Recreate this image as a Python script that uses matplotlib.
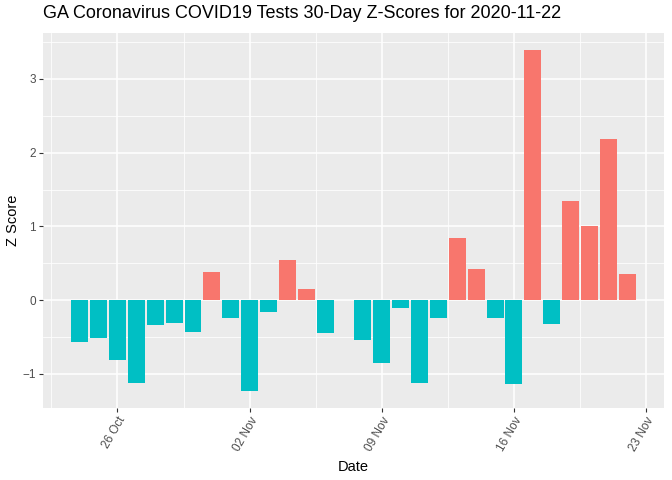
import numpy as np
import pandas as pd
import matplotlib
matplotlib.use("Agg")
import matplotlib.pyplot as plt
import matplotlib.dates as mdates
from matplotlib.ticker import MultipleLocator

plt.rcParams["font.family"] = ["Liberation Sans", "DejaVu Sans"]

# Data (Nov 07 has no value)
dates = [
    "2020-10-24", "2020-10-25", "2020-10-26", "2020-10-27", "2020-10-28",
    "2020-10-29", "2020-10-30", "2020-10-31", "2020-11-01", "2020-11-02",
    "2020-11-03", "2020-11-04", "2020-11-05", "2020-11-06", "2020-11-08",
    "2020-11-09", "2020-11-10", "2020-11-11", "2020-11-12", "2020-11-13",
    "2020-11-14", "2020-11-15", "2020-11-16", "2020-11-17", "2020-11-18",
    "2020-11-19", "2020-11-20", "2020-11-21", "2020-11-22",
]
zscores = [
    -0.57, -0.51, -0.81, -1.12, -0.34,
    -0.31, -0.43, 0.38, -0.24, -1.23,
    -0.16, 0.55, 0.15, -0.45, -0.54,
    -0.85, -0.10, -1.12, -0.24, 0.85,
    0.43, -0.24, -1.14, 3.39, -0.32,
    1.35, 1.00, 2.19, 0.35,
]
x_ticks = ["2020-10-26", "2020-11-02", "2020-11-09", "2020-11-16", "2020-11-23"]

pos_color = "#F8766D"
neg_color = "#00BFC4"

d = mdates.date2num(pd.to_datetime(dates))
z = np.array(zscores)
colors = [pos_color if v > 0 else neg_color for v in z]

fig = plt.figure(figsize=(6.72, 4.8), dpi=100)
ax = fig.add_axes([0.064, 0.15, 0.924, 0.781])

ax.bar(d, z, width=0.9, color=colors, zorder=3)

# ggplot-like expansion
x_lo, x_hi = d.min() - 0.45, d.max() + 0.45
xr = x_hi - x_lo
ax.set_xlim(x_lo - 0.05 * xr, x_hi + 0.05 * xr)
y_lo, y_hi = z.min(), z.max()
yr = y_hi - y_lo
ax.set_ylim(y_lo - 0.05 * yr, y_hi + 0.05 * yr)

ticks = mdates.date2num(pd.to_datetime(x_ticks))
ax.set_xticks(ticks)
ax.set_xticklabels(pd.to_datetime(x_ticks).strftime("%d %b"))
minor_x = np.concatenate([[ticks[0] - 3.5], (ticks[:-1] + ticks[1:]) / 2])
ax.set_xticks(minor_x, minor=True)
ax.yaxis.set_major_locator(MultipleLocator(1))
ax.yaxis.set_minor_locator(MultipleLocator(0.5))

ax.set_facecolor("#EBEBEB")
ax.grid(which="major", color="white", linewidth=1.1, zorder=0)
ax.grid(which="minor", color="white", linewidth=0.55, zorder=0)
ax.set_axisbelow(True)
for s in ax.spines.values():
    s.set_visible(False)

ax.tick_params(which="major", length=3, width=0.8, color="#333333",
               labelsize=8.5, labelcolor="#4D4D4D", pad=2)
ax.tick_params(which="minor", length=0)
for lab in ax.get_xticklabels():
    lab.set_rotation(60)
    lab.set_ha("right")
    lab.set_va("top")
    lab.set_rotation_mode("anchor")

ax.set_xlabel("Date", fontsize=10.5, labelpad=5)
ax.set_ylabel("Z Score", fontsize=10.5, labelpad=2)
fig.text(0.064, 0.971, "GA Coronavirus COVID19 Tests 30-Day Z-Scores for 2020-11-22",
         fontsize=13, ha="left", va="center")

fig.savefig("out.png", dpi=100)
